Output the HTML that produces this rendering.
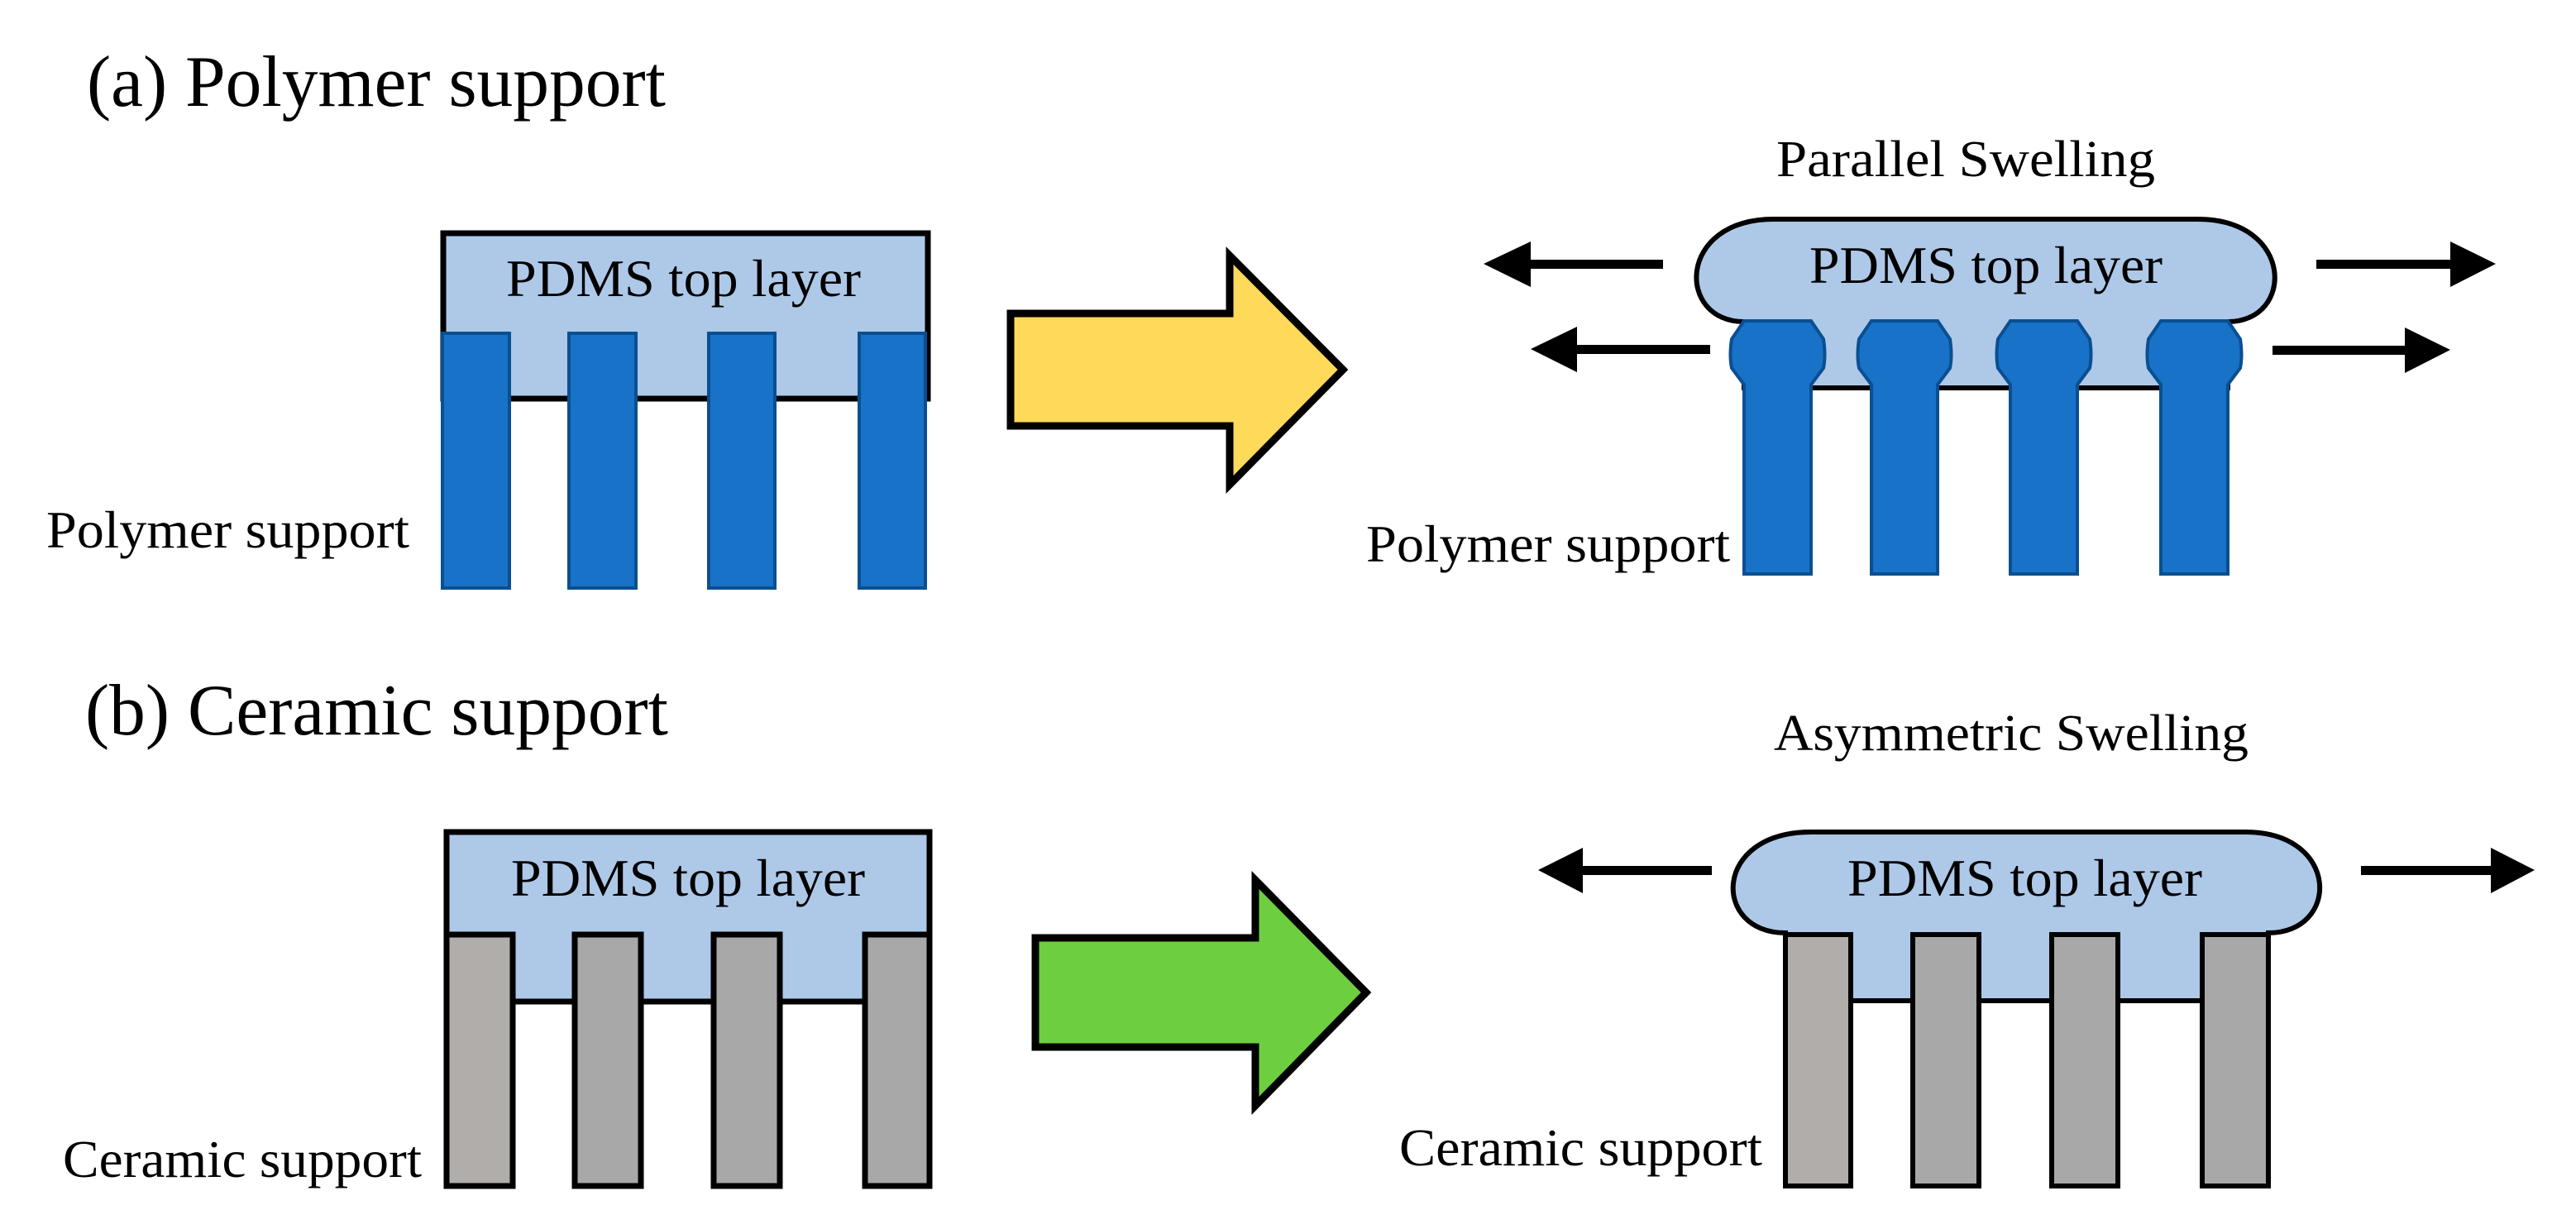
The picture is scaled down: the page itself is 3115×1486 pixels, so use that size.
<!DOCTYPE html>
<html><head><meta charset="utf-8"><style>html,body{margin:0;padding:0;background:#fff}svg{display:block}</style></head>
<body>
<svg width="3115" height="1486" viewBox="0 0 3115 1486" xmlns="http://www.w3.org/2000/svg" font-family="'Liberation Serif', serif">
<rect width="3115" height="1486" fill="#fff"/>
<text x="105" y="128" font-size="88" textLength="700" lengthAdjust="spacingAndGlyphs">(a) Polymer support</text>
<text x="103" y="888" font-size="88" textLength="705" lengthAdjust="spacingAndGlyphs">(b) Ceramic support</text>

<!-- (a) left -->
<rect x="536" y="282" width="586" height="200" fill="#AEC8E8" stroke="#000" stroke-width="7"/>
<g fill="#1872C8" stroke="#0A4F90" stroke-width="4">
<rect x="535" y="403" width="81" height="308"/>
<rect x="688" y="403" width="81" height="308"/>
<rect x="857" y="403" width="80" height="308"/>
<rect x="1039" y="403" width="80" height="308"/>
</g>
<text x="612" y="358" font-size="64" textLength="429" lengthAdjust="spacingAndGlyphs">PDMS top layer</text>
<text x="56" y="662" font-size="64" textLength="439" lengthAdjust="spacingAndGlyphs">Polymer support</text>
<polygon points="1222,379 1487,379 1487,309 1624,447 1487,586 1487,515 1222,515" fill="#FFD95A" stroke="#000" stroke-width="9"/>

<!-- (a) right -->
<text x="2148" y="213" font-size="62" textLength="458" lengthAdjust="spacingAndGlyphs">Parallel Swelling</text>
<path d="M2145,265 H2657 C2775,265 2775,389 2694,389 V469 H2109 V389 C2027,389 2027,265 2145,265 Z" fill="#AEC8E8" stroke="#000" stroke-width="6"/>
<g fill="#1872C8" stroke="#0A4F90" stroke-width="4">
<path d="M2109,388 H2190 L2205,410 Q2208,430 2205,445 L2190,465 V694 H2109 V465 L2094,445 Q2091,430 2094,410 Z"/>
<path d="M2263,388 H2343 L2358,410 Q2361,430 2358,445 L2343,465 V694 H2263 V465 L2248,445 Q2245,430 2248,410 Z"/>
<path d="M2431,388 H2512 L2527,410 Q2530,430 2527,445 L2512,465 V694 H2431 V465 L2416,445 Q2413,430 2416,410 Z"/>
<path d="M2613,388 H2694 L2709,410 Q2712,430 2709,445 L2694,465 V694 H2613 V465 L2598,445 Q2595,430 2598,410 Z"/>
</g>
<text x="2188" y="342" font-size="64" textLength="427" lengthAdjust="spacingAndGlyphs">PDMS top layer</text>
<text x="1652" y="679" font-size="64" textLength="440" lengthAdjust="spacingAndGlyphs">Polymer support</text>
<g fill="#000">
<polygon points="1794,319 1851,292 1851,314 2011,314 2011,325 1851,325 1851,347"/>
<polygon points="1851,422 1907,395 1907,417 2068,417 2068,428 1907,428 1907,450"/>
<polygon points="3018,319 2963,292 2963,314 2801,314 2801,325 2963,325 2963,347"/>
<polygon points="2963,423 2908,396 2908,418 2748,418 2748,429 2908,429 2908,451"/>
</g>

<!-- (b) left -->
<rect x="540" y="1006" width="584" height="205" fill="#AEC8E8" stroke="#000" stroke-width="7"/>
<g stroke="#000" stroke-width="7">
<rect x="540" y="1130" width="80" height="304" fill="#B0ADAB"/>
<rect x="695" y="1130" width="80" height="304" fill="#A8A8A8"/>
<rect x="863" y="1130" width="80" height="304" fill="#A8A8A8"/>
<rect x="1046" y="1130" width="78" height="304" fill="#A8A8A8"/>
</g>
<text x="618" y="1083" font-size="64" textLength="428" lengthAdjust="spacingAndGlyphs">PDMS top layer</text>
<text x="76" y="1423" font-size="64" textLength="434" lengthAdjust="spacingAndGlyphs">Ceramic support</text>
<polygon points="1252,1134 1518,1134 1518,1064 1652,1200 1518,1337 1518,1266 1252,1266" fill="#6DCF40" stroke="#000" stroke-width="9"/>

<!-- (b) right -->
<text x="2145" y="907" font-size="62" textLength="574" lengthAdjust="spacingAndGlyphs">Asymmetric Swelling</text>
<path d="M2190,1006 H2715 C2830,1006 2830,1128 2743,1128 V1210 H2159 V1128 C2070,1128 2070,1006 2190,1006 Z" fill="#AEC8E8" stroke="#000" stroke-width="6"/>
<g stroke="#000" stroke-width="6">
<rect x="2159" y="1130" width="79" height="304" fill="#B0ADAB"/>
<rect x="2313" y="1130" width="80" height="304" fill="#A8A8A8"/>
<rect x="2481" y="1130" width="80" height="304" fill="#A8A8A8"/>
<rect x="2663" y="1130" width="80" height="304" fill="#A8A8A8"/>
</g>
<text x="2234" y="1083" font-size="64" textLength="429" lengthAdjust="spacingAndGlyphs">PDMS top layer</text>
<text x="1692" y="1409" font-size="64" textLength="439" lengthAdjust="spacingAndGlyphs">Ceramic support</text>
<g fill="#000">
<polygon points="1860,1052 1914,1025 1914,1047 2070,1047 2070,1058 1914,1058 1914,1080"/>
<polygon points="3065,1052 3012,1025 3012,1047 2855,1047 2855,1058 3012,1058 3012,1080"/>
</g>
</svg>
</body></html>
